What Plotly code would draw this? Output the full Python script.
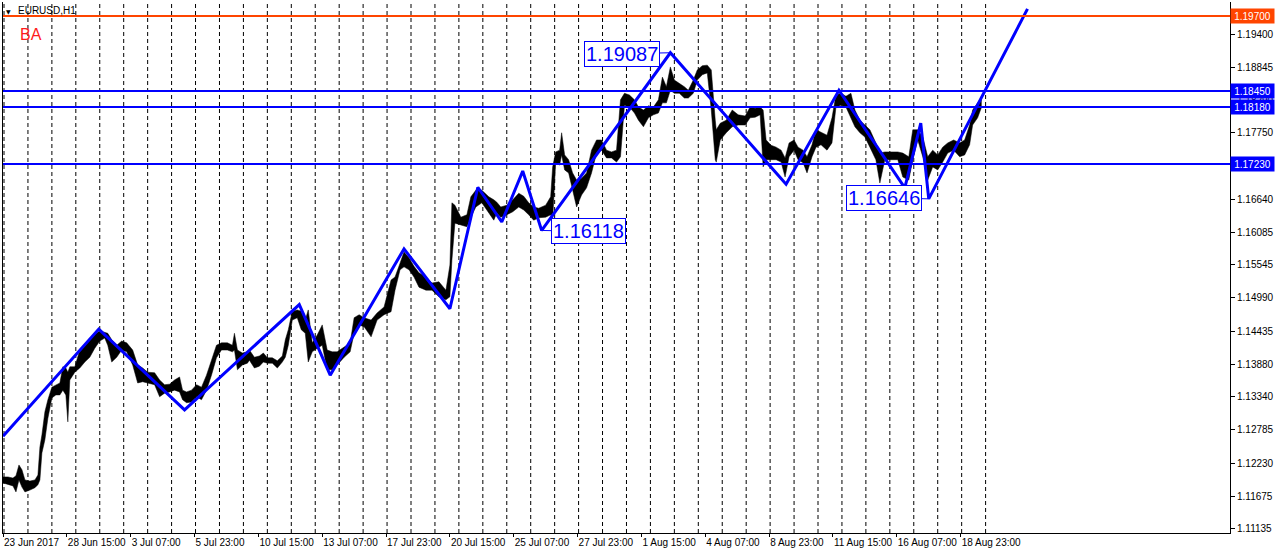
import plotly.graph_objects as go

# ---------------- data ----------------
# H1 bars of EURUSD, sampled: bar index (0 = 23 Jun 2017 23:00), high, low
bar_index = [
    0, 5, 10, 13, 16, 19, 22, 27, 32, 35, 37, 39, 42, 45, 49, 53, 57, 60, 63, 65,
    67, 72, 77, 82, 87, 92, 97, 102, 105, 109, 114, 119, 124, 130, 135, 140, 145, 152, 157, 162,
    167, 172, 177, 180, 184, 189, 194, 199, 204, 209, 214, 219, 225, 230, 232, 235, 240, 245,
    247, 252, 257, 261, 265, 270, 275, 280, 283, 286, 290, 295, 299, 303, 306, 310, 315, 320, 325, 330,
    335, 342, 348, 352, 357, 362, 369, 375, 382, 389, 393, 398, 402, 407, 412, 417, 424, 430, 437, 444,
    448, 450, 453, 459, 465, 469, 474, 480, 487, 492, 495,
    499, 505, 511, 517, 522, 527, 532, 537, 544, 549, 551, 554, 558, 560, 563, 567, 571, 575, 580, 585,
    590, 595, 600, 605, 610, 615, 619, 623, 628, 633, 637, 642, 647, 652, 657, 661, 665, 669, 673, 678,
    683, 687, 692, 696, 701, 706, 710, 714, 715, 719, 725, 731, 737, 744,
    749, 754, 759, 762, 765, 770, 775, 780, 784, 788, 793, 797, 802, 806, 811, 815, 820, 826, 831, 835,
    840, 845, 850, 854, 859, 864, 869, 875, 879, 884, 890, 897, 902, 908, 912, 917, 922, 927, 932, 937,
    942, 947, 953, 959, 964, 969, 972, 977, 981,
]
high = [
    1.1200, 1.1200, 1.1198, 1.1202, 1.1220, 1.1212, 1.1195, 1.1193, 1.1195, 1.1203,
    1.1250, 1.1270, 1.1309, 1.1329, 1.1350, 1.1354, 1.1357, 1.1384, 1.1382, 1.1375,
    1.1384, 1.1384, 1.1412, 1.1420, 1.1429, 1.1439, 1.1444, 1.1442, 1.1440, 1.1429,
    1.1420, 1.1427, 1.1424, 1.1412, 1.1387, 1.1382, 1.1375, 1.1374, 1.1362, 1.1354,
    1.1355, 1.1362, 1.1367, 1.1345, 1.1342, 1.1345, 1.1354, 1.1350, 1.1370, 1.1395,
    1.1420, 1.1424, 1.1424, 1.1420, 1.1440, 1.1412, 1.1407, 1.1409,
    1.1412, 1.1400, 1.1402, 1.1407, 1.1399, 1.1399, 1.1394, 1.1402, 1.1429, 1.1446,
    1.1477, 1.1479, 1.1477, 1.1462, 1.1479, 1.1424, 1.1437, 1.1454, 1.1412, 1.1409,
    1.1409, 1.1417, 1.1424, 1.1466, 1.1471, 1.1466, 1.1462, 1.1474, 1.1484, 1.1529,
    1.1534, 1.1557, 1.1576, 1.1566, 1.1552, 1.1541, 1.1534, 1.1524, 1.1526, 1.1512,
    1.1554, 1.1658, 1.1654, 1.1634, 1.1638, 1.1668, 1.1679, 1.1679, 1.1668, 1.1663,
    1.1659,
    1.1651, 1.1654, 1.1663, 1.1674, 1.1669, 1.1658, 1.1651, 1.1649, 1.1654, 1.1668,
    1.1718, 1.1743, 1.1746, 1.1775, 1.1738, 1.1730, 1.1708, 1.1696, 1.1699, 1.1708,
    1.1746, 1.1763, 1.1763, 1.1746, 1.1743, 1.1746, 1.1830, 1.1841, 1.1838, 1.1830,
    1.1818, 1.1813, 1.1820, 1.1818, 1.1830, 1.1868, 1.1852, 1.1885, 1.1863, 1.1858,
    1.1852, 1.1846, 1.1863, 1.1880, 1.1887, 1.1888, 1.1880, 1.1796, 1.1780, 1.1791,
    1.1796, 1.1813, 1.1805, 1.1803,
    1.1818, 1.1816, 1.1818, 1.1813, 1.1763, 1.1754, 1.1751, 1.1746, 1.1733, 1.1758,
    1.1763, 1.1751, 1.1746, 1.1735, 1.1755, 1.1780, 1.1776, 1.1771, 1.1800, 1.1838,
    1.1841, 1.1836, 1.1841, 1.1813, 1.1796, 1.1788, 1.1780, 1.1758, 1.1741, 1.1743,
    1.1743, 1.1743, 1.1741, 1.1735, 1.1780, 1.1780, 1.1768, 1.1735, 1.1746, 1.1738,
    1.1751, 1.1758, 1.1763, 1.1758, 1.1763, 1.1788, 1.1813, 1.1825, 1.1830,
]
low = [
    1.1190, 1.1188, 1.1185, 1.1175, 1.1195, 1.1183, 1.1175, 1.1178, 1.1182, 1.1187,
    1.1195, 1.1240, 1.1262, 1.1298, 1.1332, 1.1337, 1.1337, 1.1345, 1.1337, 1.1292,
    1.1362, 1.1375, 1.1382, 1.1392, 1.1400, 1.1415, 1.1427, 1.1432, 1.1420, 1.1392,
    1.1400, 1.1412, 1.1409, 1.1387, 1.1357, 1.1359, 1.1357, 1.1354, 1.1334, 1.1340,
    1.1342, 1.1345, 1.1342, 1.1329, 1.1324, 1.1325, 1.1334, 1.1329, 1.1345, 1.1370,
    1.1399, 1.1412, 1.1412, 1.1409, 1.1412, 1.1379, 1.1387, 1.1390,
    1.1395, 1.1382, 1.1385, 1.1392, 1.1390, 1.1390, 1.1382, 1.1392, 1.1400, 1.1420,
    1.1462, 1.1466, 1.1446, 1.1440, 1.1392, 1.1409, 1.1415, 1.1420, 1.1379, 1.1379,
    1.1387, 1.1400, 1.1409, 1.1440, 1.1454, 1.1451, 1.1434, 1.1462, 1.1471, 1.1476,
    1.1512, 1.1546, 1.1551, 1.1546, 1.1534, 1.1517, 1.1512, 1.1512, 1.1501, 1.1496,
    1.1501, 1.1562, 1.1624, 1.1621, 1.1618, 1.1634, 1.1651, 1.1658, 1.1641, 1.1629,
    1.1641,
    1.1634, 1.1638, 1.1643, 1.1651, 1.1646, 1.1638, 1.1629, 1.1633, 1.1634, 1.1638,
    1.1629, 1.1725, 1.1721, 1.1738, 1.1713, 1.1708, 1.1679, 1.1651, 1.1671, 1.1683,
    1.1708, 1.1741, 1.1746, 1.1733, 1.1733, 1.1726, 1.1735, 1.1821, 1.1818, 1.1808,
    1.1796, 1.1785, 1.1800, 1.1805, 1.1808, 1.1825, 1.1825, 1.1846, 1.1841, 1.1841,
    1.1833, 1.1833, 1.1841, 1.1863, 1.1872, 1.1875, 1.1813, 1.1730, 1.1726, 1.1763,
    1.1775, 1.1785, 1.1788, 1.1788,
    1.1800, 1.1801, 1.1805, 1.1718, 1.1730, 1.1730, 1.1730, 1.1726, 1.1701, 1.1735,
    1.1746, 1.1730, 1.1725, 1.1708, 1.1735, 1.1751, 1.1755, 1.1746, 1.1758, 1.1818,
    1.1821, 1.1818, 1.1801, 1.1785, 1.1775, 1.1768, 1.1751, 1.1730, 1.1691, 1.1730,
    1.1730, 1.1730, 1.1701, 1.1696, 1.1730, 1.1763, 1.1735, 1.1696, 1.1718, 1.1713,
    1.1726, 1.1741, 1.1746, 1.1735, 1.1738, 1.1755, 1.1788, 1.1800, 1.1818,
]

# blue zigzag drawing (bar index, price)
zz_bars = [0, 96, 182, 297, 328, 402, 448, 476, 500, 521, 540, 669, 785, 838, 904, 920, 928, 1027]
zz_prices = [1.1268, 1.1447, 1.1312, 1.1488, 1.1370, 1.1581, 1.1481, 1.1684, 1.1626, 1.1711,
             1.16118, 1.19087, 1.1689, 1.1846, 1.1683, 1.1791, 1.16646, 1.1982]

# price labels on the zigzag
label_bars = [669, 540, 928]
label_prices = [1.19087, 1.16118, 1.16646]

# horizontal levels
level_prices = [1.19700, 1.18450, 1.18180, 1.17230]
level_colors = ["#FF4500", "#0000FF", "#0000FF", "#0000FF"]

# axes
x_tick_bars = [0, 64, 128, 192, 256, 320, 384, 448, 512, 576, 640, 704, 768, 832, 896, 960]
x_tick_text = ["23 Jun 2017", "28 Jun 15:00", "3 Jul 07:00", "5 Jul 23:00", "10 Jul 15:00",
               "13 Jul 07:00", "17 Jul 23:00", "20 Jul 15:00", "25 Jul 07:00", "27 Jul 23:00",
               "1 Aug 15:00", "4 Aug 07:00", "8 Aug 23:00", "11 Aug 15:00", "16 Aug 07:00",
               "18 Aug 23:00"]
y_ticks = [1.11135, 1.11675, 1.12230, 1.12785, 1.13340, 1.13880, 1.14435, 1.14990, 1.15545,
           1.16085, 1.16640, 1.17195, 1.17750, 1.18290, 1.18845, 1.19400]
day_start_bars = list(range(1, 986, 24))

# ---------------- figure ----------------
BLUE = "#0000FF"
FONT = "Liberation Sans, Arial, sans-serif"

fig = go.Figure()
fig.add_trace(go.Scatter(x=bar_index, y=high, mode="lines",
                         line=dict(color="black", width=0.5), hoverinfo="skip", showlegend=False))
fig.add_trace(go.Scatter(x=bar_index, y=low, mode="lines", fill="tonexty", fillcolor="black",
                         line=dict(color="black", width=0.5), hoverinfo="skip", showlegend=False))
fig.add_trace(go.Scatter(x=zz_bars, y=zz_prices, mode="lines",
                         line=dict(color=BLUE, width=3), hoverinfo="skip", showlegend=False))

shapes = []
for b in day_start_bars:
    shapes.append(dict(type="line", xref="x", yref="paper", x0=b, x1=b, y0=0, y1=1,
                       line=dict(color="black", width=1, dash="4px,3px"), layer="below"))
for p, c in zip(level_prices, level_colors):
    shapes.append(dict(type="line", xref="paper", yref="y", x0=0, x1=1, y0=p, y1=p,
                       line=dict(color=c, width=2), layer="above"))

annotations = []
for p, c in zip(level_prices, level_colors):
    annotations.append(dict(xref="paper", yref="y", x=1, y=p, xanchor="left", yanchor="middle",
                            text=f"{p:.5f}", showarrow=False, bgcolor=c, width=41, height=12,
                            borderpad=1, font=dict(family=FONT, size=10, color="white")))
for b, p, ax, ay in zip(label_bars, label_prices, [-48, 47, -45], [1, 1, -1]):
    annotations.append(dict(xref="x", yref="y", x=b, y=p, text=f"{p:.5f}", showarrow=True,
                            arrowhead=0, arrowwidth=1, arrowcolor=BLUE, ax=ax, ay=ay,
                            bgcolor="white", bordercolor=BLUE, borderwidth=1, borderpad=1,
                            font=dict(family=FONT, size=20, color=BLUE)))
annotations.append(dict(xref="paper", yref="paper", x=0, y=1, xanchor="left", yanchor="top",
                        xshift=1, yshift=-4, text="▼", showarrow=False,
                        font=dict(family="DejaVu Sans", size=6, color="black")))
annotations.append(dict(xref="paper", yref="paper", x=0, y=1, xanchor="left", yanchor="top",
                        xshift=13, yshift=-1, text="EURUSD,H1", showarrow=False,
                        font=dict(family=FONT, size=10, color="black")))
annotations.append(dict(xref="paper", yref="paper", x=0, y=1, xanchor="left", yanchor="top",
                        xshift=15, yshift=-22, text="BA", showarrow=False,
                        font=dict(family=FONT, size=16, color="#FF1a1a")))

fig.update_layout(
    width=1276, height=553,
    margin=dict(l=3, r=43, t=2, b=20),
    paper_bgcolor="white", plot_bgcolor="white",
    showlegend=False,
    shapes=shapes, annotations=annotations,
    xaxis=dict(range=[0, 1230], tickvals=x_tick_bars, ticktext=x_tick_text, tickangle=0,
               ticks="outside", ticklen=3, tickcolor="black", ticklabelposition="outside right",
               showline=True, linecolor="black", linewidth=1, showgrid=False, zeroline=False,
               tickfont=dict(family=FONT, size=10, color="black"), fixedrange=True),
    yaxis=dict(side="right", range=[1.11063, 1.19935], tickvals=y_ticks, tickformat=".5f",
               ticks="outside", ticklen=4, tickcolor="black",
               showline=True, mirror=True, linecolor="black", linewidth=1,
               showgrid=False, zeroline=False,
               tickfont=dict(family=FONT, size=10, color="black"), fixedrange=True),
)

fig.write_html("out.html", config={"displayModeBar": False},
               post_script="document.body.style.margin='0';document.body.style.overflow='hidden';")
